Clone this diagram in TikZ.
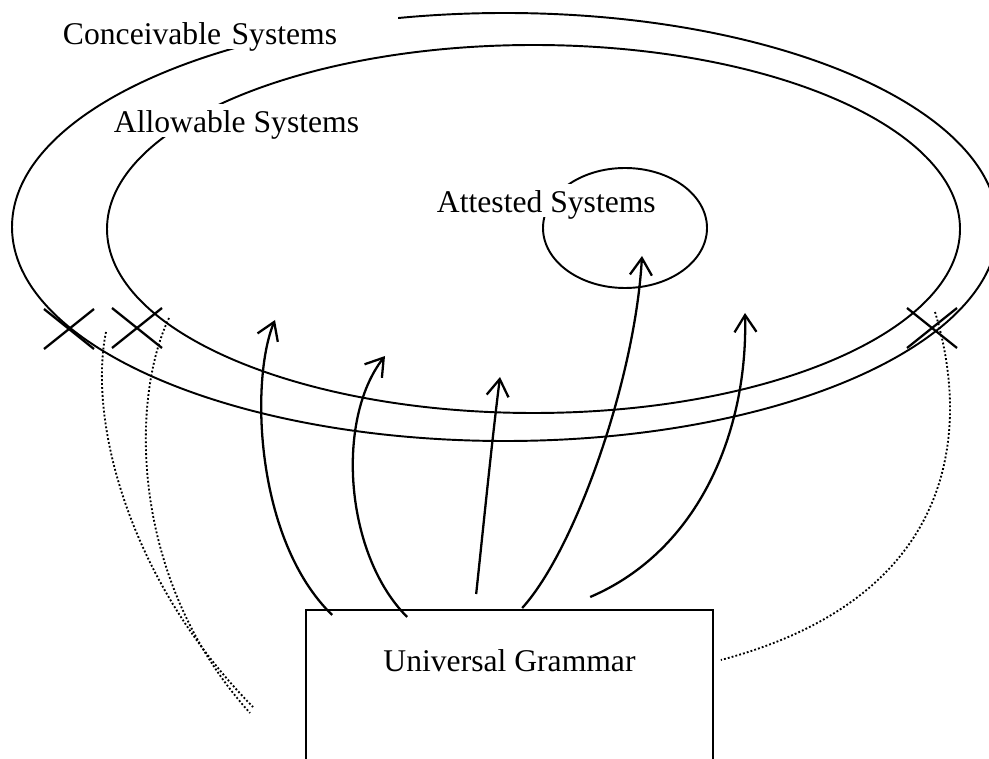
\documentclass[tikz,border=0pt]{standalone}
\usepackage{fontspec}
\setmainfont{Liberation Serif}
\usetikzlibrary{arrows.meta}

\begin{document}
\begin{tikzpicture}[x=0.02cm, y=-0.02cm, font=\fontsize{18}{21}\selectfont,
    ring/.style={line width=1.1pt},
    setlabel/.style={fill=white, anchor=base west, inner sep=1.5pt, text height=15pt, text depth=1pt},
    derive/.style={line width=1.3pt, -{Straight Barb[length=0.34cm, width=0.44cm]}},
    cross/.style={line width=1.3pt},
    blocked/.style={line width=1.05pt, dash pattern=on 1.05pt off 1.2pt}]
  \path[use as bounding box, clip] (0,0) rectangle (989,759);
  % --- the three sets of systems ---
  \draw[ring] (505,227) ellipse [x radius=493, y radius=214];
  \draw[ring] (533.5,229) ellipse [x radius=426.5, y radius=184];
  \draw[ring] (625,228) ellipse [x radius=82, y radius=60];
  \node[setlabel, text width=6.64cm] (conc) at (60,45) {Conceivable Systems};
  \node[setlabel] (allow) at (111,133) {Allowable Systems};
  \node[setlabel] (attest) at (434,213) {Attested Systems};
  % --- universal grammar box ---
  \node[draw, line width=1pt, minimum width=8.14cm, minimum height=4cm, anchor=north] (ug) at (509.5,609) {};
  \node[anchor=base] (ugname) at ([shift={(0,62)}]ug.north) {Universal Grammar};
  % --- arrows into the systems ---
  \coordinate (tipA) at (275,320);
  \coordinate (tipB) at (385,356);
  \coordinate (tipC) at (500,377);
  \coordinate (tipD) at (642,256);
  \coordinate (tipE) at (745,313);
  \foreach \dx/\dy/\ax/\ay/\bx/\by/\tip in {
      27/6/255/540/250/380/tipA,
      102/8/345/555/335/420/tipB,
      171/-15/483/530/492/440/tipC,
      217/-1/575/550/635/380/tipD,
      285/-12/700/550/748/430/tipE}
    {\draw[derive] ([shift={(\dx,\dy)}]ug.north west) .. controls (\ax,\ay) and (\bx,\by) .. (\tip);}
  % --- crossed-out systems ---
  \coordinate (xa) at (69,329);
  \coordinate (xb) at (137,328);
  \coordinate (xc) at (932,328);
  \foreach \c in {xa, xb, xc}
    {\draw[cross] ([shift={(-25,-20)}]\c) -- ([shift={(25,20)}]\c);
     \draw[cross] ([shift={(-25,20)}]\c) -- ([shift={(25,-20)}]\c);}
  % --- dotted links ---
  \coordinate (endA) at (253,707);
  \coordinate (endB) at (250,713);
  \draw[blocked] ([shift={(37,3)}]xa) .. controls (88,420) and (128,580) .. (endA);
  \draw[blocked] ([shift={(32,-10)}]xb) .. controls (130,400) and (130,580) .. (endB);
  \draw[blocked] ([shift={(3,-16)}]xc) .. controls (968,420) and (966,595) .. ([shift={(7,51)}]ug.north east);
\end{tikzpicture}
\end{document}
